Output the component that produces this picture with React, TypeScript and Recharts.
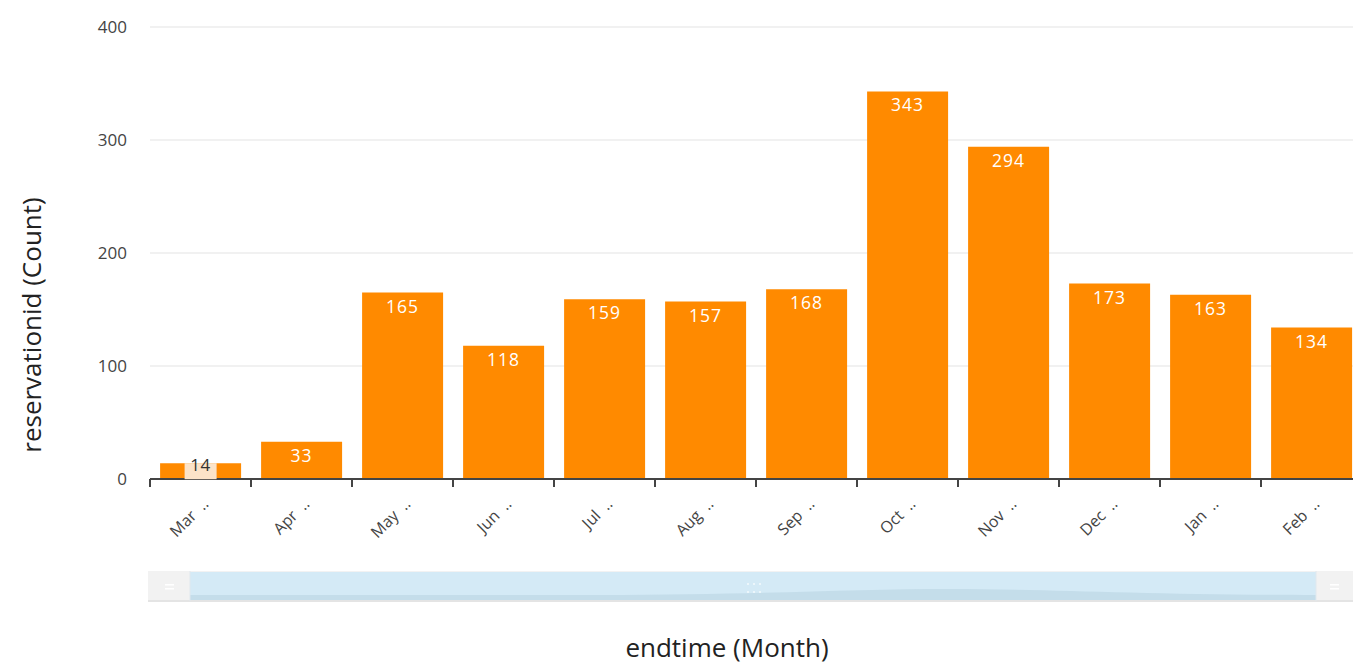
import React from "react";
import { BarChart, Bar, XAxis, YAxis, CartesianGrid, LabelList } from "recharts";

const months = ["Mar\u00a0\u00a0..", "Apr\u00a0\u00a0..", "May\u00a0\u00a0..", "Jun\u00a0\u00a0..", "Jul\u00a0\u00a0..", "Aug\u00a0\u00a0..", "Sep\u00a0\u00a0..", "Oct\u00a0\u00a0..", "Nov\u00a0\u00a0..", "Dec\u00a0\u00a0..", "Jan\u00a0\u00a0..", "Feb\u00a0\u00a0.."];
const counts = [14, 33, 165, 118, 159, 157, 168, 343, 294, 173, 163, 134];
const yTicks = [0, 100, 200, 300, 400];

const data = months.map((m, i) => ({ month: m, count: counts[i] }));

const FONT = "'Open Sans', 'Noto Sans', 'DejaVu Sans', sans-serif";
const PLOT_LEFT = 150;
const CHART_W = 1362;
const BAND = (CHART_W - PLOT_LEFT) / months.length;

const XTick = (props: any) => {
  const { x, y, payload } = props;
  return (
    <g>
      <line x1={x - BAND / 2} y1={y - 10} x2={x - BAND / 2} y2={y - 2} stroke="#444" strokeWidth={2} />
      <g transform={`translate(${x + 9},${y + 16})`}>
        <text x={0} y={0} textAnchor="end" transform="rotate(-45)" fontSize={16} fill="#444" fontFamily={FONT}>
          {payload.value}
        </text>
      </g>
    </g>
  );
};

const BarLabel = (props: any) => {
  const { x, y, width, value } = props;
  const cx = x + width / 2;
  if (value < 30) {
    return (
      <g>
        <rect x={cx - 16} y={y} width={32} height={16} fill="#FCE3C8" />
        <text x={cx} y={y + 8} textAnchor="middle" fontSize={17} fill="#333" fontFamily={FONT} letterSpacing={0.5}>
          {value}
        </text>
      </g>
    );
  }
  return (
    <text x={cx} y={y + 20} textAnchor="middle" fontSize={17.5} fill="#FFFFFF" fontFamily={FONT} letterSpacing={1}>
      {value}
    </text>
  );
};

export default function App() {
  return (
    <div style={{ position: "absolute", left: 0, top: 0, width: 1353, height: 665, overflow: "hidden", background: "#fff" }}>
      <BarChart
        width={CHART_W}
        height={665}
        data={data}
        margin={{ top: 27, right: 0, left: 90, bottom: 0 }}
        barCategoryGap="10%"
      >
        <CartesianGrid horizontal vertical={false} stroke="#E3E3E3" />
        <YAxis
          width={60}
          domain={[0, 400]}
          ticks={yTicks}
          axisLine={false}
          tickLine={false}
          tick={{ fontSize: 17, fill: "#444", fontFamily: FONT }}
          tickMargin={17}
        />
        <XAxis
          dataKey="month"
          height={186}
          interval={0}
          axisLine={{ stroke: "#444", strokeWidth: 2 }}
          tickLine={false}
          tickSize={8}
          tick={<XTick />}
        />
        <Bar dataKey="count" fill="#FF8A00" isAnimationActive={false}>
          <LabelList dataKey="count" content={<BarLabel />} />
        </Bar>
      </BarChart>
      <svg width={1353} height={665} style={{ position: "absolute", left: 0, top: 0, pointerEvents: "none" }}>
        <text
          x={0}
          y={0}
          transform="translate(41,325) rotate(-90)"
          textAnchor="middle"
          fontSize={26}
          fill="#222"
          fontFamily={FONT}
        >
          reservationid (Count)
        </text>
        <text x={727} y={657} textAnchor="middle" fontSize={26} fill="#222" fontFamily={FONT}>
          endtime (Month)
        </text>
        <g>
          <rect x={148} y={571} width={1205} height={31} fill="#F2F2F2" />
          <rect x={190} y={572} width={1126} height={29} fill="#D4EAF6" />
          <path d="M190,595 L600,595 C750,595 850,589 950,589 C1050,589 1150,595 1316,595 L1316,601 L190,601 Z" fill="#C4DDEA" />
          <rect x={148} y={600} width={1205} height={2} fill="#E4E4E4" />
          <line x1={190} y1={571} x2={190} y2={601} stroke="#E0E8EE" />
          <line x1={1316} y1={571} x2={1316} y2={601} stroke="#E0E8EE" />
          <rect x={165} y={584} width={9} height={1.5} fill="#fff" />
          <rect x={165} y={588} width={9} height={1.5} fill="#fff" />
          <rect x={1330} y={584} width={9} height={1.5} fill="#fff" />
          <rect x={1330} y={588} width={9} height={1.5} fill="#fff" />
          {[0, 1, 2].map((i) => (
            <g key={i}>
              <circle cx={748 + i * 6} cy={584} r={1} fill="#F4FAFD" />
              <circle cx={748 + i * 6} cy={592} r={1} fill="#F4FAFD" />
            </g>
          ))}
        </g>
      </svg>
    </div>
  );
}
